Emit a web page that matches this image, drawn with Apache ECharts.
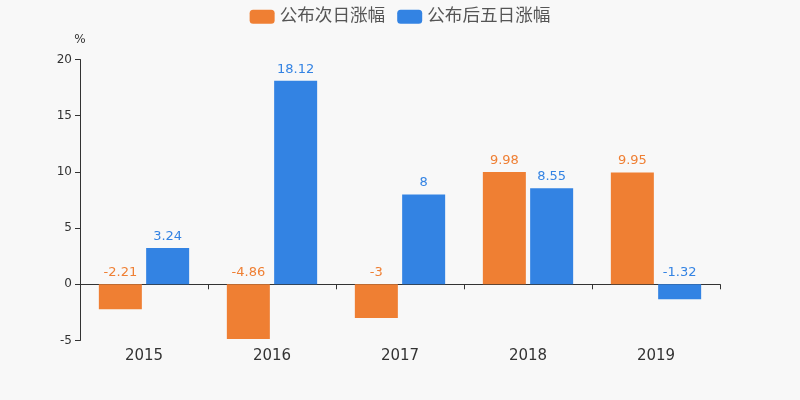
<!DOCTYPE html>
<html lang="zh">
<head>
    <meta charset="UTF-8">
    <title>涨幅</title>
    <style>
        html, body { margin: 0; padding: 0; background: #f8f8f8; }
        #chart { width: 800px; height: 400px; }
    </style>
</head>
<body>
<div id="chart"></div>
<script src="https://cdn.jsdelivr.net/npm/echarts@6/dist/echarts.min.js"></script>
<script type="text/javascript">
    var years = ['2015', '2016', '2017', '2018', '2019'];
    var nextDay = [-2.21, -4.86, -3, 9.98, 9.95];
    var fiveDay = [3.24, 18.12, 8, 8.55, -1.32];
    var seriesNames = ['公布次日涨幅', '公布后五日涨幅'];
    var colors = ['#ef7f33', '#3383e3'];

    var font = '"DejaVu Sans", "Noto Sans CJK SC", sans-serif';

    function bar(name, data, color) {
        return {
            name: name,
            type: 'bar',
            data: data,
            barWidth: 43,
            barGap: '10%',
            itemStyle: {color: color},
            label: {
                show: true,
                position: 'top',
                color: color,
                fontSize: 13,
                fontFamily: font
            }
        };
    }

    var myChart = echarts.init(document.getElementById('chart'));
    myChart.setOption({
        backgroundColor: '#f8f8f8',
        color: colors,
        legend: {
            top: 3,
            itemWidth: 25,
            itemHeight: 14,
            icon: 'roundRect',
            itemGap: 12,
            textStyle: {fontSize: 17.6, color: '#555', fontFamily: font},
            data: seriesNames
        },
        grid: {left: 80, right: 80, top: 59.5, bottom: 59.5},
        xAxis: [{
            type: 'category',
            data: years,
            axisLine: {show: false, onZero: false},
            axisTick: {show: false},
            axisLabel: {fontSize: 15, color: '#333', margin: 8, fontFamily: font}
        }, {
            type: 'category',
            data: years,
            position: 'bottom',
            axisLine: {onZero: true, lineStyle: {color: '#333'}},
            axisTick: {show: true, length: 5, lineStyle: {color: '#333'}},
            axisLabel: {show: false}
        }],
        yAxis: {
            type: 'value',
            min: -5,
            max: 20,
            interval: 5,
            name: '%',
            nameGap: 14,
            nameTextStyle: {color: '#333', fontSize: 12, align: 'center', fontFamily: font},
            axisLine: {show: true, lineStyle: {color: '#333'}},
            axisTick: {show: true, length: 5, lineStyle: {color: '#333'}},
            axisLabel: {color: '#333', fontSize: 12, margin: 8, fontFamily: font},
            splitLine: {show: false}
        },
        series: [
            bar(seriesNames[0], nextDay, colors[0]),
            bar(seriesNames[1], fiveDay, colors[1])
        ]
    });
</script>
</body>
</html>
